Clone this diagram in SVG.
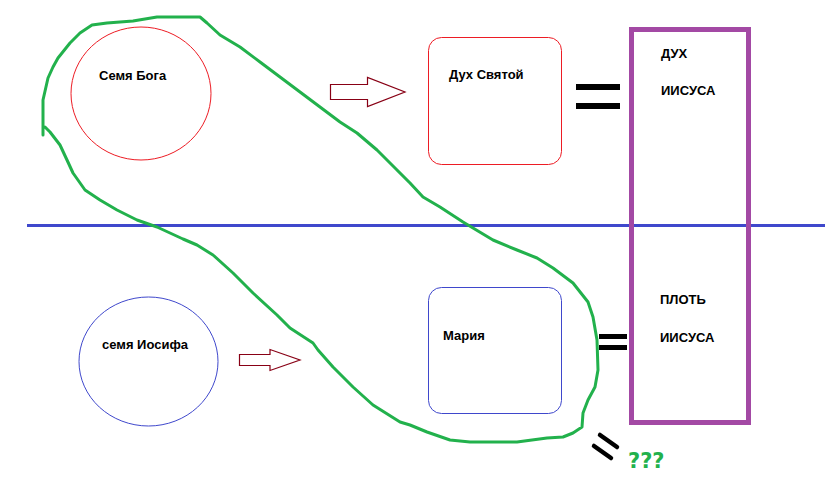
<svg xmlns="http://www.w3.org/2000/svg" width="825" height="484" viewBox="0 0 825 484">
<style>
.t{font-family:"Liberation Sans",Arial,sans-serif;font-weight:bold;font-size:13px;fill:#000}
.arr{fill:#fff;stroke:#880015;stroke-width:1.2}
.eq{fill:#000}
</style>
<rect width="825" height="484" fill="#fff"/>
<g id="line"><line x1="27" y1="225.5" x2="825" y2="225.5" stroke="#3f48cc" stroke-width="3"/></g>
<g id="semya-boga"><ellipse cx="141" cy="93.5" rx="70" ry="66.5" fill="none" stroke="#ed1c24" stroke-width="1"/><text class="t" x="99" y="80">Семя Бога</text></g>
<g id="semya-iosifa"><ellipse cx="148.5" cy="361.5" rx="69.5" ry="64.5" fill="none" stroke="#3f48cc" stroke-width="1"/><text class="t" x="102" y="349">семя Иосифа</text></g>
<g id="duh-svyatoy"><rect x="428.5" y="37.5" width="133" height="127" rx="13" fill="none" stroke="#ed1c24" stroke-width="1"/><text class="t" x="449" y="79">Дух Святой</text></g>
<g id="mariya"><rect x="428.5" y="287.5" width="133" height="126" rx="13" fill="none" stroke="#3f48cc" stroke-width="1"/><text class="t" x="443" y="340">Мария</text></g>
<g id="iisus"><rect x="631.5" y="29.5" width="117" height="393" fill="none" stroke="#a349a4" stroke-width="5"/>
<text class="t" x="661" y="58">ДУХ</text><text class="t" x="661" y="95">ИИСУСА</text>
<text class="t" x="660" y="304">ПЛОТЬ</text><text class="t" x="660" y="342">ИИСУСА</text></g>
<g id="connectors">
<polygon class="arr" points="330.5,84.5 367.5,84.5 367.5,77.5 405,92 367.5,106.5 367.5,99.5 330.5,99.5"/>
<polygon class="arr" points="239.5,354.5 270,354.5 270,349.5 300,360 270,370.5 270,365.5 239.5,365.5"/>
<rect class="eq" x="576" y="84" width="44" height="6"/><rect class="eq" x="576" y="103" width="44" height="6"/>
<rect class="eq" x="599" y="334" width="28" height="5"/><rect class="eq" x="599" y="345" width="28" height="5"/>
<line x1="600" y1="435" x2="617" y2="447" stroke="#000" stroke-width="4.5" stroke-linecap="round"/>
<line x1="594" y1="446" x2="611" y2="458" stroke="#000" stroke-width="4.5" stroke-linecap="round"/>
<path d="M43,135 L43,100 L48,78 L53,67 L58,58 L70,43 L80,33 L92,25 L107,23 L133,21 L157,17 L200,17 L207,23 L220,35 L240,47 L260,62 L280,77 L300,92 L320,107 L340,122 L357,133 L377,150 L397,170 L410,183 L423,197 L440,207 L463,222 L493,240 L517,250 L537,258 L553,268 L573,283 L588,302 L593,317 L597,340 L598,370 L595,387 L588,400 L583,413 L582,427 L573,433 L563,437 L547,438 L517,442 L470,442 L450,440 L427,432 L410,425 L400,422 L373,405 L353,387 L333,367 L318,350 L313,343 L290,328 L277,315 L253,293 L233,273 L213,255 L197,245 L183,239 L157,227 L137,220 L117,210 L100,200 L85,190 L73,173 L67,160 L60,145 L50,132 L45,127" fill="none" stroke="#22b14c" stroke-width="3" stroke-linejoin="round" stroke-linecap="round"/>
</g>
<text x="628" y="468" style="font-family:'DejaVu Sans',sans-serif;font-weight:bold;font-size:21px;fill:#22b14c">???</text>
</svg>
